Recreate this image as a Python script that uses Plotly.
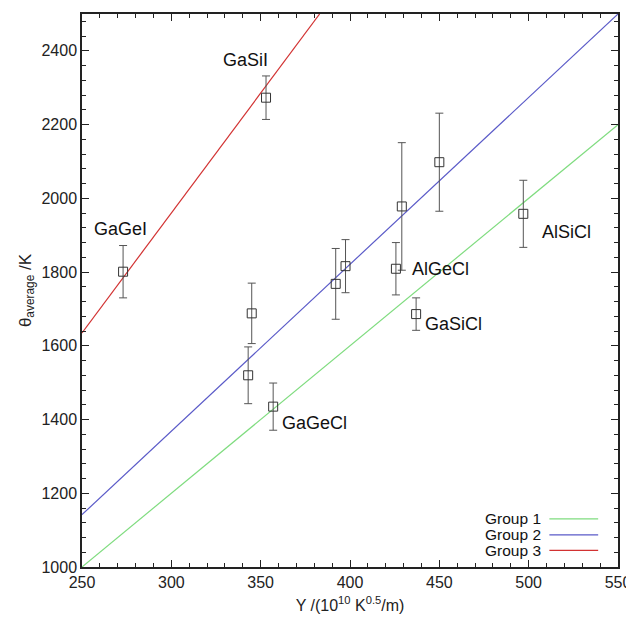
import plotly.graph_objects as go

# ---- data ----
compound_x = [273, 353, 345, 343, 357, 392, 397.5, 425.7, 429, 450, 497, 437]
compound_y = [1801, 2273, 1688, 1520, 1435, 1768, 1816, 1809, 1978, 2098, 1958, 1686]
compound_err = [71, 59, 82, 77, 64, 96, 72, 71, 173, 133, 91, 44]

label_text = ["GaGeI", "GaSiI", "GaGeCl", "AlGeCl", "GaSiCl", "AlSiCl"]
label_x = [255.5, 328, 361, 433.5, 441, 506.5]
label_y = [1917, 2375, 1391, 1808, 1659, 1908]

group_names = ["Group 1", "Group 2", "Group 3"]
group_colors = ["#7fdc7f", "#5a5ac8", "#d23232"]
group_x = [[250, 550], [250, 550], [250, 383]]
group_y = [[1000, 2200], [1142, 2500], [1635, 2500]]

fig = go.Figure()

for name, col, gx, gy in zip(group_names, group_colors, group_x, group_y):
    fig.add_trace(go.Scatter(x=gx, y=gy, mode="lines", name=name,
                             line=dict(color=col, width=1.2), showlegend=False))

fig.add_trace(go.Scatter(
    x=compound_x, y=compound_y, mode="markers",
    marker=dict(symbol="square-open", size=9, color="#333333", line=dict(width=1)),
    error_y=dict(type="data", array=compound_err, visible=True, color="#555555",
                 thickness=1, width=4),
    showlegend=False))

for t, x, y in zip(label_text, label_x, label_y):
    fig.add_annotation(x=x, y=y, text=t, showarrow=False, xanchor="left",
                       yanchor="middle", font=dict(size=18, color="#111111"))

# custom legend (text right, line sample)
leg_y = [0.087, 0.058, 0.030]
for name, col, ly in zip(group_names, group_colors, leg_y):
    fig.add_annotation(xref="paper", yref="paper", x=0.86, y=ly, text=name,
                       showarrow=False, xanchor="right", yanchor="middle",
                       font=dict(size=15.5, color="#111111"))
    fig.add_shape(type="line", xref="paper", yref="paper", x0=0.872, x1=0.963,
                  y0=ly, y1=ly, line=dict(color=col, width=1.2))

axis_common = dict(showline=True, linecolor="#222222", linewidth=1.5, mirror="ticks",
                   ticks="inside", ticklen=7, tickcolor="#222222", showgrid=False,
                   zeroline=False, automargin=False,
                   tickfont=dict(size=16, color="#222222"))

fig.update_xaxes(range=[250, 550], dtick=50, tick0=250,
                 minor=dict(dtick=10, ticks="inside", ticklen=4, tickcolor="#222222"),
                 title=dict(text="Y /(10<sup>10</sup> K<sup>0.5</sup>/m)",
                            font=dict(size=16, color="#222222"), standoff=10),
                 **axis_common)
fig.update_yaxes(range=[1000, 2500], dtick=200, tick0=1000,
                 minor=dict(dtick=40, ticks="inside", ticklen=4, tickcolor="#222222"),
                 title=dict(text="θ<sub>average</sub> /K",
                            font=dict(size=17, color="#222222"), standoff=6),
                 **axis_common)

fig.update_layout(width=626, height=614, plot_bgcolor="white", paper_bgcolor="white",
                  margin=dict(l=74, r=16, t=6, b=55),
                  font=dict(family="Liberation Sans, Arial, sans-serif"))

fig.write_html("out.html")
